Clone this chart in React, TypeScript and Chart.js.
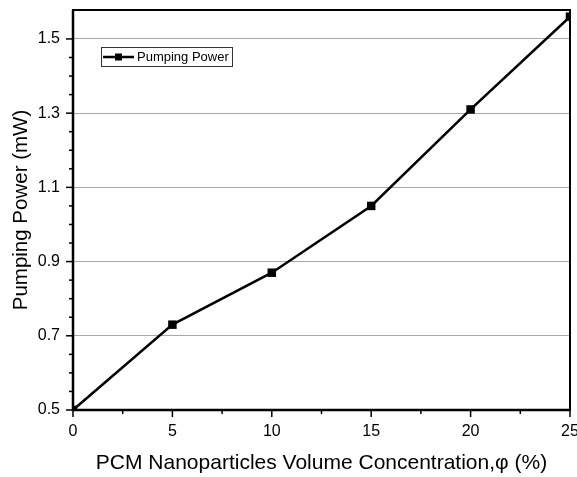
import React, { useEffect, useRef } from "react";
import { Chart, registerables } from "chart.js";

Chart.register(...registerables);

const concentrations = [0, 5, 10, 15, 20, 25];
const pumpingPower = [0.5, 0.73, 0.87, 1.05, 1.31, 1.56];
const seriesLabel = "Pumping Power";
const xTitle = "PCM Nanoparticles Volume Concentration,\u03c6 (%)";
const yTitle = "Pumping Power (mW)";
const yLabelValues = [0.5, 0.7, 0.9, 1.1, 1.3, 1.5];
const xLabelValues = [0, 5, 10, 15, 20, 25];

const FONT = '"Liberation Sans", Arial, sans-serif';

const near = (a: number, b: number) => Math.abs(a - b) < 1e-6;
const isYLabel = (v: number) => yLabelValues.some((l) => near(l, v));
const isXLabel = (v: number) => xLabelValues.some((l) => near(l, v));

const framePlugin = {
  id: "frame",
  afterDraw(chart: any) {
    const { ctx, chartArea: a, scales } = chart;
    ctx.save();
    ctx.strokeStyle = "#000";
    // ticks
    ctx.lineWidth = 1.5;
    scales.y.ticks.forEach((t: any) => {
      const y = scales.y.getPixelForValue(t.value);
      const len = isYLabel(t.value) ? 7 : 4;
      ctx.beginPath();
      ctx.moveTo(a.left, y);
      ctx.lineTo(a.left - len, y);
      ctx.stroke();
    });
    scales.x.ticks.forEach((t: any) => {
      const x = scales.x.getPixelForValue(t.value);
      const len = isXLabel(t.value) ? 7 : 4;
      ctx.beginPath();
      ctx.moveTo(x, a.bottom);
      ctx.lineTo(x, a.bottom + len);
      ctx.stroke();
    });
    // frame
    ctx.lineWidth = 2;
    ctx.strokeRect(a.left, a.top, a.right - a.left, a.bottom - a.top);
    ctx.lineWidth = 2.5;
    ctx.beginPath();
    ctx.moveTo(a.left, a.top);
    ctx.lineTo(a.left, a.bottom);
    ctx.lineTo(a.right, a.bottom);
    ctx.stroke();
    // legend
    const lx = 101, ly = 47, lw = 131, lh = 19;
    ctx.lineWidth = 1;
    ctx.strokeStyle = "#333";
    ctx.strokeRect(lx + 0.5, ly + 0.5, lw, lh);
    const cy = ly + lh / 2 + 0.5;
    ctx.strokeStyle = "#000";
    ctx.lineWidth = 2.5;
    ctx.beginPath();
    ctx.moveTo(lx + 2, cy);
    ctx.lineTo(lx + 33, cy);
    ctx.stroke();
    ctx.fillStyle = "#000";
    ctx.fillRect(lx + 17.5 - 3.5, cy - 3.5, 7, 7);
    ctx.font = `13px ${FONT}`;
    ctx.textBaseline = "middle";
    ctx.textAlign = "left";
    ctx.fillText(seriesLabel, lx + 36, cy + 0.5);
    ctx.restore();
  },
};

export default function App() {
  const ref = useRef<HTMLCanvasElement | null>(null);
  useEffect(() => {
    document.body.style.margin = "0";
    const canvas = ref.current!;
    const chart = new Chart(canvas, {
      type: "line",
      data: {
        datasets: [
          {
            label: seriesLabel,
            data: concentrations.map((x, i) => ({ x, y: pumpingPower[i] })),
            borderColor: "#000",
            backgroundColor: "#000",
            borderWidth: 2.5,
            pointStyle: "rect",
            pointRadius: 6,
            pointBorderWidth: 0,
            pointBackgroundColor: "#000",
            tension: 0,
          },
        ],
      },
      options: {
        animation: false,
        responsive: false,
        devicePixelRatio: 1,
        layout: { padding: { left: 0, top: 10, right: 7, bottom: 0 } },
        plugins: { legend: { display: false }, tooltip: { enabled: false } },
        scales: {
          x: {
            type: "linear",
            min: 0,
            max: 25,
            border: { display: false },
            grid: { display: false, drawTicks: false },
            ticks: {
              stepSize: 2.5,
              autoSkip: false,
              maxRotation: 0,
              padding: 12,
              color: "#000",
              font: { family: FONT, size: 16 },
              callback: (v: any) => (isXLabel(Number(v)) ? String(Math.round(Number(v))) : ""),
            },
            title: {
              display: true,
              text: xTitle,
              color: "#000",
              font: { family: FONT, size: 21 },
              padding: { top: 0, bottom: 1 },
            },
            afterFit: (s: any) => {
              s.height = 67;
              s.paddingLeft = 0;
              s.paddingRight = 0;
            },
          },
          y: {
            type: "linear",
            min: 0.5,
            max: 1.578,
            border: { display: false },
            grid: {
              drawTicks: false,
              lineWidth: 1,
              color: (c: any) =>
                c.tick && isYLabel(c.tick.value) && !near(c.tick.value, 0.5) ? "#a8a8a8" : "rgba(0,0,0,0)",
            },
            afterBuildTicks: (s: any) => {
              s.ticks = s.ticks.filter((t: any) => near(t.value / 0.05, Math.round(t.value / 0.05)));
            },
            ticks: {
              stepSize: 0.05,
              autoSkip: false,
              padding: 13,
              color: "#000",
              font: { family: FONT, size: 16 },
              callback: (v: any) => (isYLabel(Number(v)) ? Number(v).toFixed(1) : ""),
            },
            title: {
              display: true,
              text: yTitle,
              color: "#000",
              font: { family: FONT, size: 20.5 },
              padding: { top: 9.5, bottom: 0 },
            },
            afterFit: (s: any) => {
              s.width = 73;
              s.paddingTop = 0;
              s.paddingBottom = 0;
            },
          },
        },
      },
      plugins: [framePlugin],
    });
    return () => chart.destroy();
  }, []);
  return (
    <div style={{ width: 577, height: 477, background: "#fff" }}>
      <canvas ref={ref} width={577} height={477} style={{ display: "block" }} />
    </div>
  );
}
